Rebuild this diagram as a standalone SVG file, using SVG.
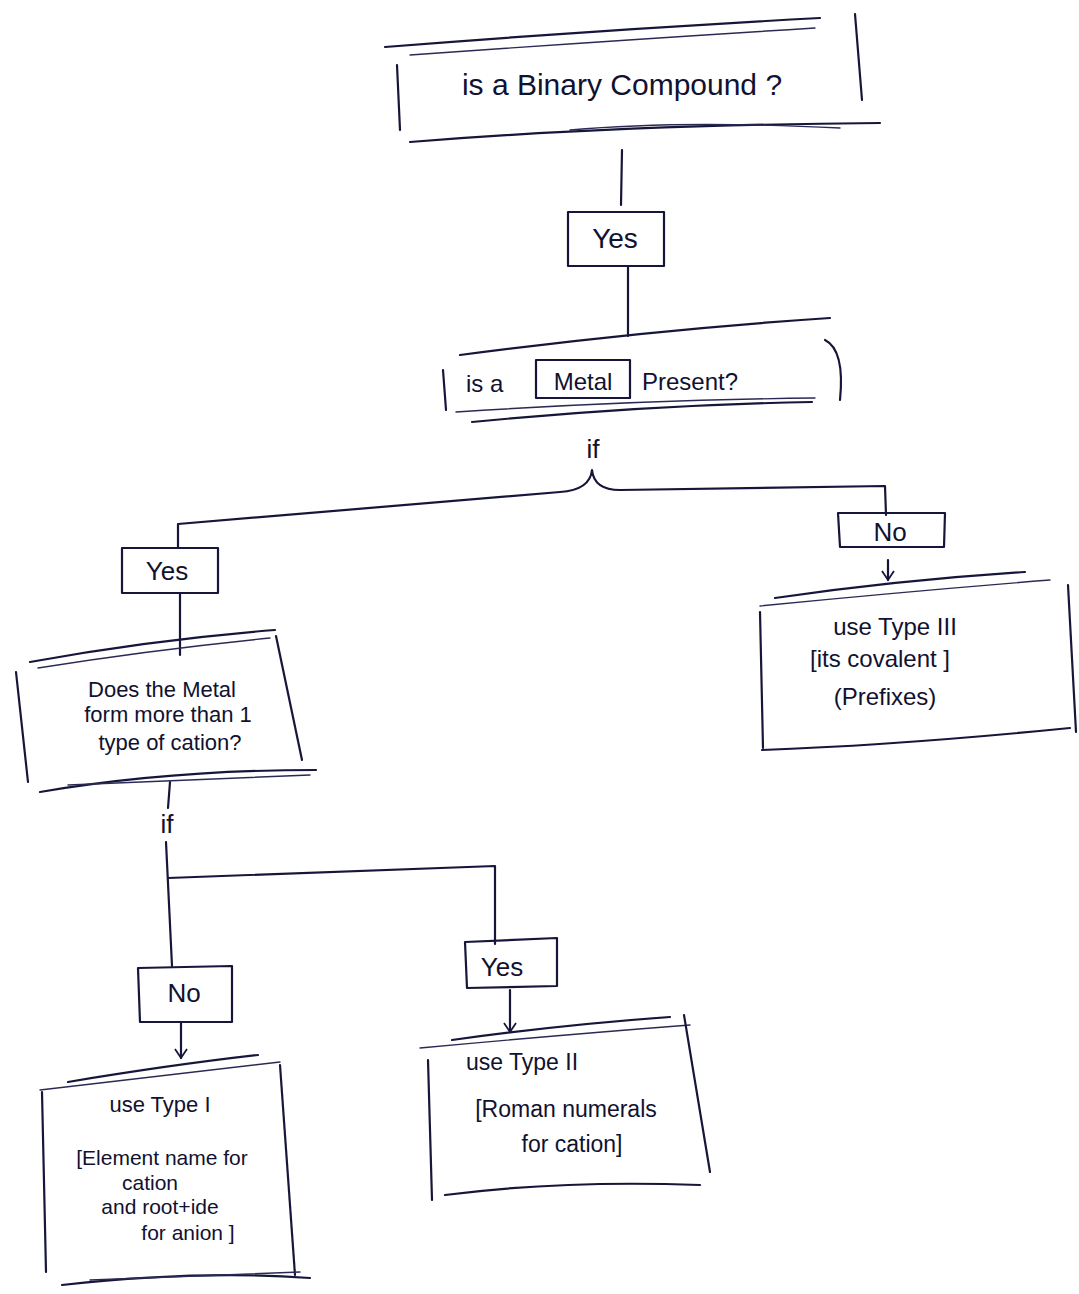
<svg xmlns="http://www.w3.org/2000/svg" width="1079" height="1294" viewBox="0 0 1079 1294">
<style>
.ink{fill:none;stroke:#16163a;stroke-width:2.2;stroke-linecap:round;stroke-linejoin:round}
.thin{fill:none;stroke:#2a2a55;stroke-width:1.4;stroke-linecap:round}
.t{font-family:"Liberation Sans",Arial,sans-serif;fill:#111130;text-anchor:middle}
.s{text-anchor:start}
</style>
<defs>
<marker id="ah" markerWidth="14" markerHeight="14" refX="10" refY="7" orient="auto" markerUnits="userSpaceOnUse">
<path d="M1,1 L10,7 L1,13" fill="none" stroke="#16163a" stroke-width="1.8"/>
</marker>
</defs>
<rect width="1079" height="1294" fill="#ffffff"/>

<g id="connectors">
<path class="ink" d="M622,150 L621,205"/>
<path class="ink" d="M628,266 L628,336"/>
<path class="ink" d="M178,548 L178,524 L560,492 Q590,490 592,470 Q594,490 620,490 L885,486 L886,515"/>
<path class="ink" d="M888,560 L888,580" marker-end="url(#ah)"/>
<path class="ink" d="M180,593 L180,655"/>
<path class="ink" d="M170,782 L168,808"/>
<path class="ink" d="M166,842 L172,966"/>
<path class="ink" d="M168,878 L495,866 L495,944"/>
<path class="ink" d="M181,1022 L181,1058" marker-end="url(#ah)"/>
<path class="ink" d="M510,990 L510,1032" marker-end="url(#ah)"/>
</g>

<g id="n1">
<path class="ink" d="M385,47 Q600,30 820,18"/>
<path class="thin" d="M410,55 Q620,40 815,28"/>
<path class="ink" d="M397,65 L400,130"/>
<path class="ink" d="M855,14 L862,100"/>
<path class="ink" d="M410,142 Q620,125 880,123"/>
<path class="thin" d="M570,130 Q680,120 840,128"/>
<text class="t" x="622" y="95" font-size="30">is a Binary Compound ?</text>
</g>

<g id="n2">
<rect class="ink" x="568" y="212" width="96" height="54"/>
<text class="t" x="615" y="248" font-size="28">Yes</text>
</g>

<g id="n3">
<path class="ink" d="M443,370 L446,410"/>
<path class="ink" d="M460,355 Q650,330 830,318"/>
<path class="ink" d="M825,340 Q845,350 840,400"/>
<path class="ink" d="M472,422 Q650,405 812,402"/>
<path class="thin" d="M456,412 Q640,400 815,398"/>
<rect class="ink" x="536" y="360" width="94" height="38"/>
<text class="t s" x="466" y="392" font-size="24">is a</text>
<text class="t" x="583" y="390" font-size="24">Metal</text>
<text class="t s" x="642" y="390" font-size="24">Present?</text>
</g>

<text class="t" x="593" y="458" font-size="26">if</text>

<g id="n4">
<rect class="ink" x="122" y="548" width="96" height="45"/>
<text class="t" x="167" y="580" font-size="26">Yes</text>
</g>

<g id="n5">
<path class="ink" d="M30,662 Q150,640 275,630"/>
<path class="thin" d="M38,668 Q150,650 270,638"/>
<path class="ink" d="M16,672 L28,782"/>
<path class="ink" d="M276,636 L302,760"/>
<path class="ink" d="M40,792 Q170,770 316,770"/>
<path class="thin" d="M68,785 L310,775"/>
<text class="t" x="162" y="697" font-size="22">Does the Metal</text>
<text class="t" x="168" y="722" font-size="22">form more than 1</text>
<text class="t" x="170" y="750" font-size="22">type of cation?</text>
</g>

<text class="t" x="167" y="833" font-size="26">if</text>

<g id="n6">
<path class="ink" d="M838,513 L945,513 L944,547 L840,547 Z"/>
<text class="t" x="890" y="541" font-size="26">No</text>
</g>

<g id="n7">
<path class="ink" d="M775,598 Q900,580 1025,572"/>
<path class="thin" d="M760,606 Q900,592 1050,580"/>
<path class="ink" d="M760,612 L763,748"/>
<path class="ink" d="M1068,585 L1076,732"/>
<path class="ink" d="M762,750 Q900,745 1070,728"/>
<text class="t" x="895" y="635" font-size="24">use Type III</text>
<text class="t" x="880" y="667" font-size="24">[its covalent ]</text>
<text class="t" x="885" y="705" font-size="24">(Prefixes)</text>
</g>

<g id="n8">
<path class="ink" d="M138,968 L232,966 L232,1022 L140,1022 Z"/>
<text class="t" x="184" y="1002" font-size="26">No</text>
</g>

<g id="n9">
<path class="ink" d="M68,1082 Q170,1065 258,1055"/>
<path class="thin" d="M40,1090 Q170,1075 280,1062"/>
<path class="ink" d="M42,1092 L46,1272"/>
<path class="ink" d="M280,1065 L295,1275"/>
<path class="ink" d="M62,1285 Q200,1270 310,1278"/>
<path class="thin" d="M90,1280 L300,1272"/>
<text class="t" x="160" y="1112" font-size="22">use Type I</text>
<text class="t" x="162" y="1165" font-size="21">[Element name for</text>
<text class="t" x="150" y="1190" font-size="21">cation</text>
<text class="t" x="160" y="1214" font-size="21">and root+ide</text>
<text class="t" x="188" y="1240" font-size="21">for anion ]</text>
</g>

<g id="n10">
<path class="ink" d="M465,942 L557,938 L557,986 L467,988 Z"/>
<text class="t" x="502" y="976" font-size="26">Yes</text>
</g>

<g id="n11">
<path class="ink" d="M452,1040 Q560,1025 670,1017"/>
<path class="thin" d="M420,1048 Q560,1035 690,1025"/>
<path class="ink" d="M428,1060 L432,1200"/>
<path class="ink" d="M684,1015 L710,1172"/>
<path class="ink" d="M445,1195 Q560,1180 700,1185"/>
<text class="t" x="522" y="1070" font-size="23">use Type II</text>
<text class="t" x="566" y="1117" font-size="23">[Roman numerals</text>
<text class="t" x="572" y="1152" font-size="23">for cation]</text>
</g>
</svg>
